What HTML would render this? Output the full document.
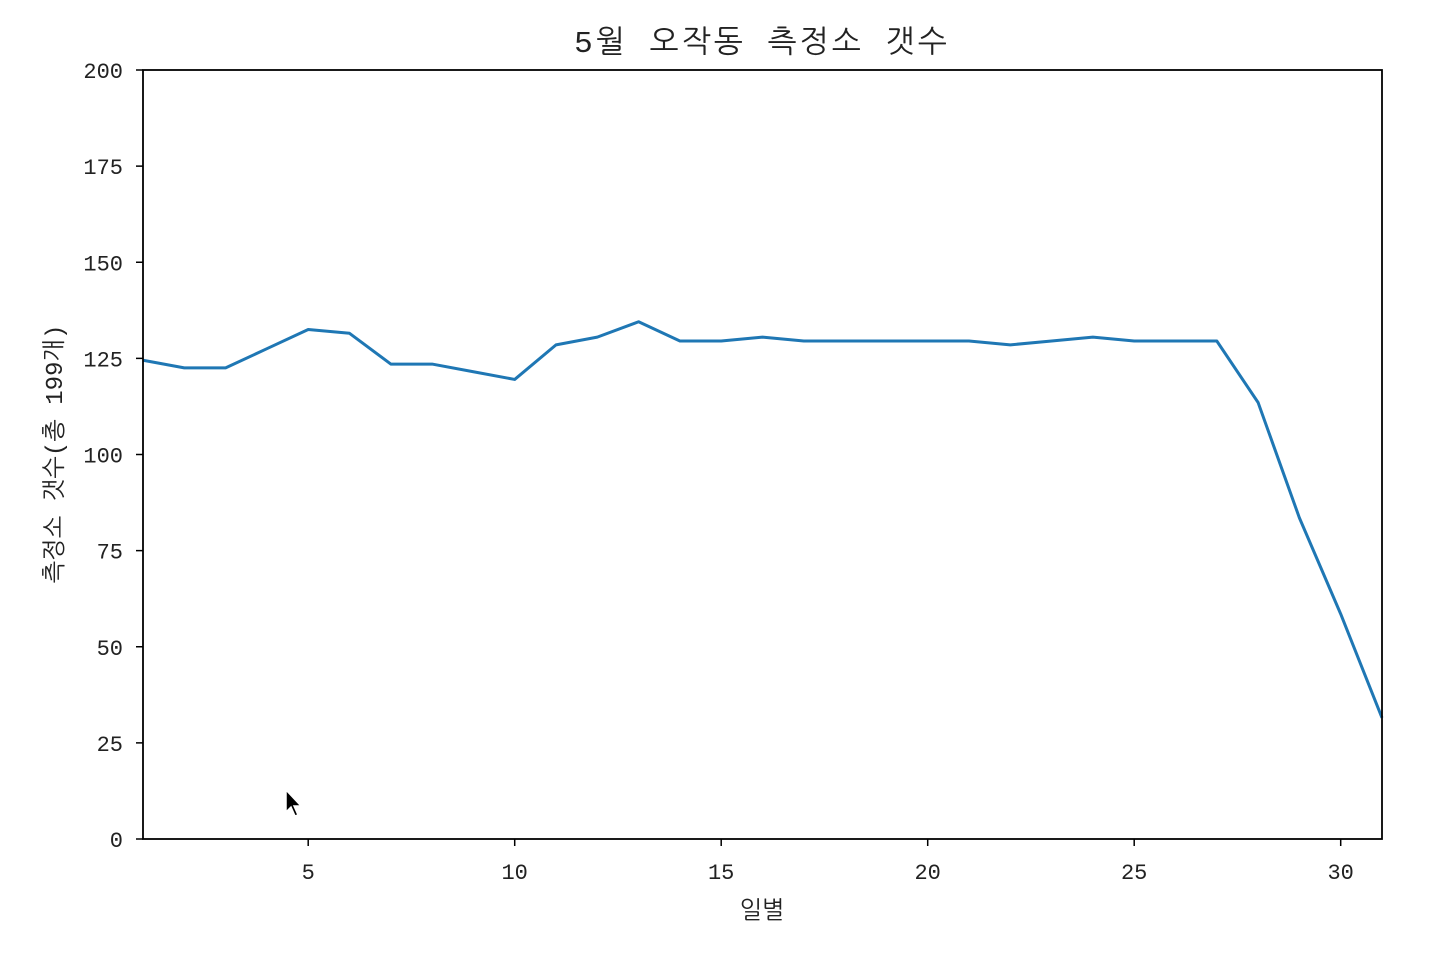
<!DOCTYPE html>
<html><head><meta charset="utf-8">
<style>
html,body{margin:0;padding:0;background:#fff;}
svg text{font-family:"Liberation Mono","NanumGothic","Noto Sans CJK KR",monospace;fill:#222;}
</style></head>
<body>
<svg id="chart" width="1437" height="953" viewBox="0 0 1437 953" xmlns="http://www.w3.org/2000/svg">
<rect width="1437" height="953" fill="#fff"/>
<text x="762" y="52" font-size="31" letter-spacing="3" text-anchor="middle">5월 오작동 측정소 갯수</text>
<g id="axes"></g>
<text x="762" y="918" font-size="24" text-anchor="middle">일별</text>
<text transform="translate(62,454) rotate(-90)" font-size="24" text-anchor="middle">측정소 갯수(총 199개)</text>
<path d="M286,790 L286,812 L291,807 L295,816 L298,815 L294,806 L301,806 Z" fill="#000" stroke="#fff" stroke-width="1.5"/>
</svg>
<script>
const days = [1,2,3,4,5,6,7,8,9,10,11,12,13,14,15,16,17,18,19,20,21,22,23,24,25,26,27,28,29,30,31];
const counts = [124,122,122,127,132,131,123,123,121,119,128,130,134,129,129,130,129,129,129,129,129,128,129,130,129,129,129,113,83,58,31];
const xTicks = [5,10,15,20,25,30];
const yTicks = [0,25,50,75,100,125,150,175,200];

const L=143,R=1382,T=70,B=839;
const xS=v=>L+(v-1)/(31-1)*(R-L);
const yS=v=>B-(v/200)*(B-T);
const NS="http://www.w3.org/2000/svg";
const g=document.getElementById('axes');
function mk(tag,attrs){const e=document.createElementNS(NS,tag);for(const k in attrs)e.setAttribute(k,attrs[k]);g.appendChild(e);return e;}

xTicks.forEach(v=>{
  const t=mk('line',{x1:xS(v),x2:xS(v),y1:B,y2:B+7,stroke:'#000','stroke-width':1.5});
  
  
  const l=mk('text',{x:xS(v),y:B+40,'font-size':22,'text-anchor':'middle'});
  l.textContent=v;
  
  
});
yTicks.forEach(v=>{
  const t=mk('line',{x1:L-7,x2:L,y1:yS(v),y2:yS(v),stroke:'#000','stroke-width':1.5});
  
  
  const l=mk('text',{x:L-20,y:yS(v)+8,'font-size':22,'text-anchor':'end'});
  l.textContent=v;
  
  
});
const p=mk('polyline',{points:days.map((d,i)=>xS(d)+','+(yS(counts[i])-2)).join(' '),fill:'none',stroke:'#1f77b4','stroke-width':3,'stroke-linejoin':'round'});


const f=mk('rect',{x:L,y:T,width:R-L,height:B-T,fill:'none',stroke:'#000','stroke-width':1.8});


</script>
</body></html>
